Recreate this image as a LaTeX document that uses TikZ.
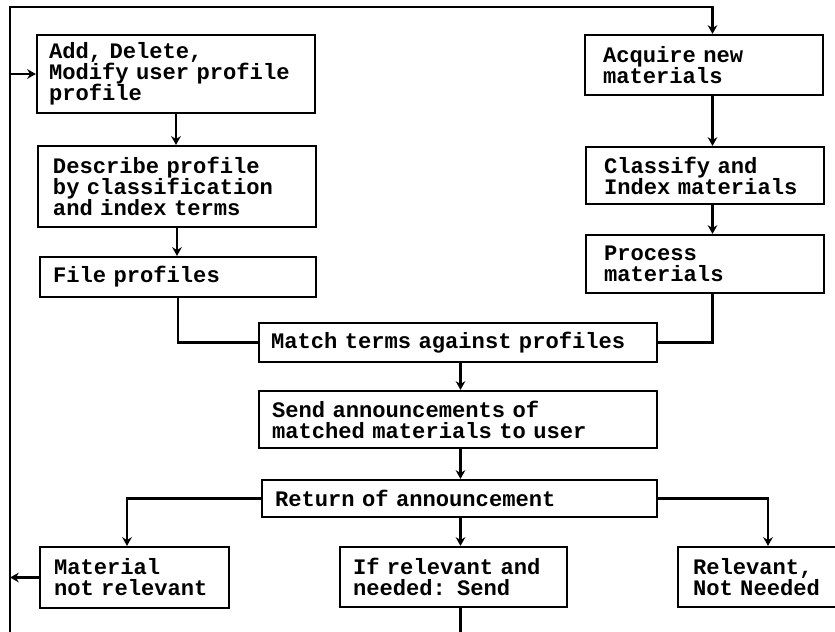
\documentclass[tikz,border=0pt]{standalone}
\usepackage{fontspec}
\setmonofont{Liberation Mono}
\usepackage{tikz}
\usetikzlibrary{arrows.meta}
\newcommand\boxfont{\ttfamily\bfseries\fontsize{12.6}{12}\selectfont}

\begin{document}
\begin{tikzpicture}[line width=1.2pt, >={Stealth[length=5pt,width=5.5pt]},
  box/.style={draw, rectangle, align=left, font=\boxfont}]
\useasboundingbox (0,0) rectangle (16.70,-12.64);
\clip (0,0) rectangle (16.70,-12.64);
\coordinate (top) at (0,-0.14);
\coordinate (bot) at (0,-12.70);
\coordinate (lx) at (0.20,0);
\coordinate (rx) at (14.25,0);
\coordinate (mx) at (9.21,0);
% user side
\node[box, text width=5.08cm, inner xsep=0.24cm, minimum height=1.56cm] (add) at (3.52,-1.48) {Add, Delete,\\Modify user profile\\profile};
\node[box, text width=4.96cm, inner xsep=0.30cm, minimum height=1.62cm] (desc) at (3.54,-3.73) {Describe profile\\by classification\\and index terms};
\node[box, text width=5.00cm, inner xsep=0.26cm, minimum height=0.80cm] (file) at (3.56,-5.54) {File profiles};
% materials side
\node[box, text width=4.04cm, inner xsep=0.36cm, minimum height=1.20cm] (acq) at (14.08,-1.30) {Acquire new\\materials};
\node[box, text width=4.04cm, inner xsep=0.36cm, minimum height=1.14cm] (cls) at (14.10,-3.51) {Classify and\\Index materials};
\node[box, text width=4.04cm, inner xsep=0.36cm, minimum height=1.16cm] (proc) at (14.10,-5.28) {Process\\materials};
% middle
\node[box, text width=7.48cm, inner xsep=0.24cm, minimum height=0.78cm] (match) at (9.16,-6.85) {Match terms against profiles};
\node[box, text width=7.44cm, inner xsep=0.26cm, minimum height=1.14cm] (send) at (9.16,-8.39) {Send announcements of\\matched materials to user};
\node[box, text width=7.38cm, inner xsep=0.26cm, minimum height=0.74cm] (ret) at (9.19,-9.97) {Return of announcement};
% answers
\node[box, text width=3.22cm, inner xsep=0.28cm, minimum height=1.22cm] (mat) at (2.69,-11.55) {Material\\not relevant};
\node[box, text width=4.02cm, inner xsep=0.26cm, minimum height=1.20cm] (ifrel) at (9.07,-11.54) {If relevant and\\needed: Send};
\node[box, text width=3.00cm, inner xsep=0.30cm, minimum height=1.20cm] (relnn) at (15.36,-11.54) {Relevant,\\Not Needed};
% connectors
\draw [->] (add.south) -- (add.south |- desc.north);
\draw [->] (desc.south) -- (desc.south |- file.north);
\draw [-] (file.south) |- (match.west);
\draw [->] (rx |- acq.south) -- (rx |- cls.north);
\draw [->] (rx |- cls.south) -- (rx |- proc.north);
\draw [-] (rx |- proc.south) |- (match.east);
\draw [->] (mx |- match.south) -- (mx |- send.north);
\draw [->] (mx |- send.south) -- (mx |- ret.north);
\draw [->] (mx |- ret.south) -- (mx |- ifrel.north);
\draw [-] (mx |- ifrel.south) -- (mx |- bot);
\draw [->] (ret.west) -| ([xshift=-0.15cm] mat.north);
\draw [->] (ret.east) -| (relnn.north);
\draw [->] (mat.west) -- (mat.west -| lx);
\draw [->] (lx |- bot) -- (lx |- top) -| (rx |- acq.north);
\draw [->] (lx |- add.west) -- (add.west);
\end{tikzpicture}
\end{document}
